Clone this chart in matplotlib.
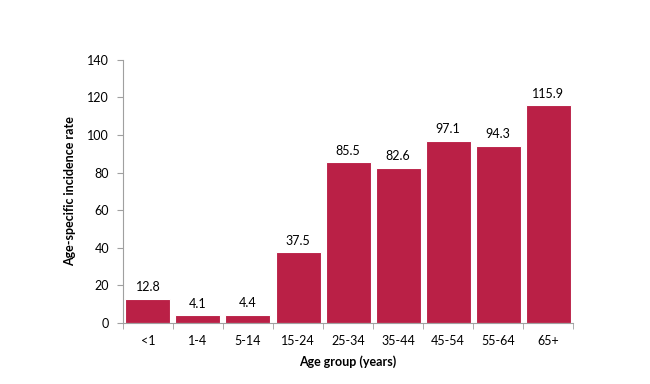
import matplotlib.pyplot as plt
import numpy as np

plt.rcParams['font.family'] = ['Lato', 'DejaVu Sans']

groups = ['<1', '1-4', '5-14', '15-24', '25-34', '35-44', '45-54', '55-64', '65+']
rates = [12.8, 4.1, 4.4, 37.5, 85.5, 82.6, 97.1, 94.3, 115.9]

fig = plt.figure(figsize=(6.5, 3.84), dpi=100)
ax = fig.add_axes([0.189, 0.159, 0.693, 0.685])

x = np.arange(len(groups))
bars = ax.bar(x, rates, width=0.9, color='#BA2046', edgecolor='white', linewidth=0.8)
for b, v in zip(bars, rates):
    ax.text(b.get_x() + b.get_width() / 2, v + 3, f'{v:.1f}', ha='center', va='bottom', fontsize=9)

ax.set_xlim(-0.5, len(groups) - 0.5)
ax.set_ylim(0, 140)
ax.set_yticks(range(0, 141, 20))
ax.set_xticks(x)
ax.set_xticklabels(groups)
ax.set_xticks(np.arange(-0.5, len(groups)), minor=True)
ax.tick_params(axis='x', which='major', length=0, pad=9, labelsize=9)
ax.tick_params(axis='x', which='minor', length=4, color='#A0A0A0')
ax.tick_params(axis='y', length=4, color='#A0A0A0', labelsize=9, pad=6)

for s in ['top', 'right']:
    ax.spines[s].set_visible(False)
for s in ['left', 'bottom']:
    ax.spines[s].set_color('#A0A0A0')
    ax.spines[s].set_linewidth(0.8)

ax.set_xlabel('Age group (years)', fontsize=9, fontweight='bold', labelpad=6)
ax.set_ylabel('Age-specific incidence rate', fontsize=9, fontweight='bold', labelpad=8)

fig.savefig('out.png', dpi=100)
